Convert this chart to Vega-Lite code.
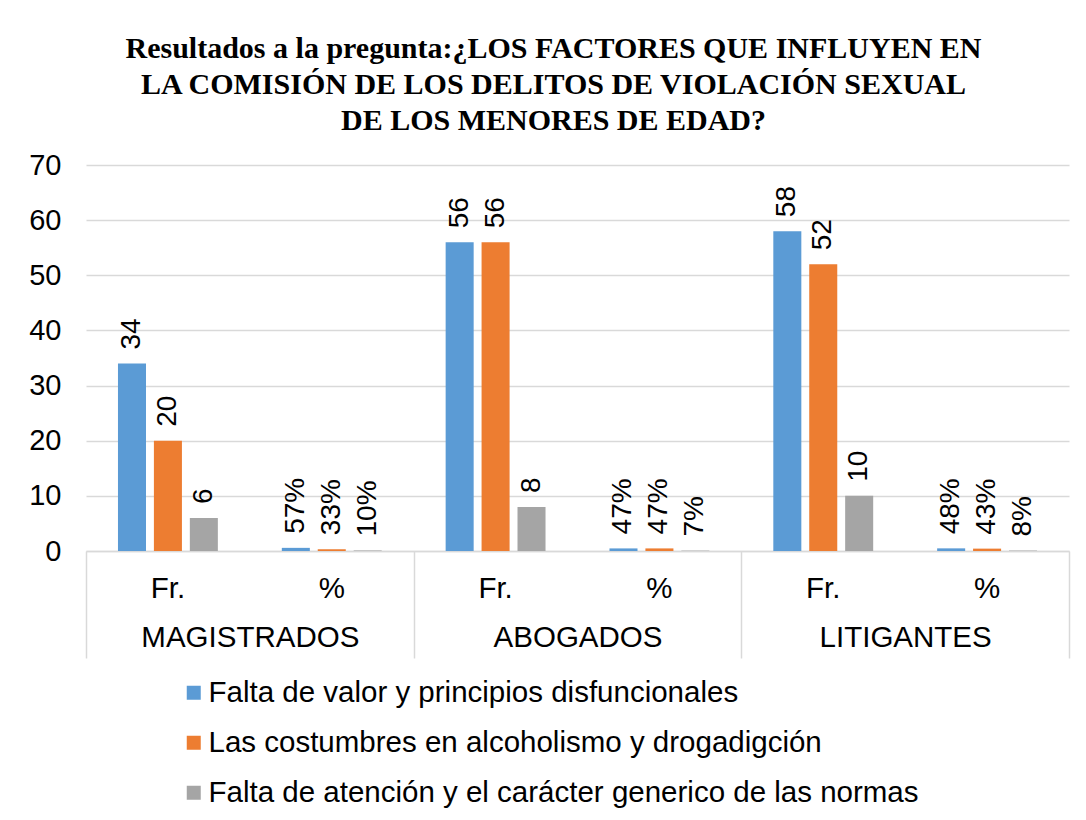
{
  "$schema": "https://vega.github.io/schema/vega-lite/v6.json",
  "width": 983,
  "height": 386,
  "autosize": {"type": "none"},
  "padding": {"left": 86, "top": 165, "right": 17, "bottom": 269},
  "background": "white",
  "title": {
    "text": ["Resultados a la pregunta:¿LOS FACTORES QUE INFLUYEN EN", "LA COMISIÓN DE LOS DELITOS DE VIOLACIÓN SEXUAL", "DE LOS MENORES DE EDAD?"],
    "font": "Liberation Serif",
    "fontSize": 30,
    "fontWeight": "bold",
    "lineHeight": 36,
    "color": "#000000",
    "anchor": "middle",
    "offset": 15,
    "dx": -24
  },
  "data": {
    "values": [
      {"group": "MAGISTRADOS", "slot": "MAGISTRADOS|Fr.", "series": "Falta de valor y principios disfuncionales", "value": 34, "label": "34"},
      {"group": "MAGISTRADOS", "slot": "MAGISTRADOS|Fr.", "series": "Las costumbres en alcoholismo y drogadigción", "value": 20, "label": "20"},
      {"group": "MAGISTRADOS", "slot": "MAGISTRADOS|Fr.", "series": "Falta de atención y el carácter generico de las normas", "value": 6, "label": "6"},
      {"group": "MAGISTRADOS", "slot": "MAGISTRADOS|%", "series": "Falta de valor y principios disfuncionales", "value": 0.57, "label": "57%"},
      {"group": "MAGISTRADOS", "slot": "MAGISTRADOS|%", "series": "Las costumbres en alcoholismo y drogadigción", "value": 0.33, "label": "33%"},
      {"group": "MAGISTRADOS", "slot": "MAGISTRADOS|%", "series": "Falta de atención y el carácter generico de las normas", "value": 0.10, "label": "10%"},
      {"group": "ABOGADOS", "slot": "ABOGADOS|Fr.", "series": "Falta de valor y principios disfuncionales", "value": 56, "label": "56"},
      {"group": "ABOGADOS", "slot": "ABOGADOS|Fr.", "series": "Las costumbres en alcoholismo y drogadigción", "value": 56, "label": "56"},
      {"group": "ABOGADOS", "slot": "ABOGADOS|Fr.", "series": "Falta de atención y el carácter generico de las normas", "value": 8, "label": "8"},
      {"group": "ABOGADOS", "slot": "ABOGADOS|%", "series": "Falta de valor y principios disfuncionales", "value": 0.47, "label": "47%"},
      {"group": "ABOGADOS", "slot": "ABOGADOS|%", "series": "Las costumbres en alcoholismo y drogadigción", "value": 0.47, "label": "47%"},
      {"group": "ABOGADOS", "slot": "ABOGADOS|%", "series": "Falta de atención y el carácter generico de las normas", "value": 0.07, "label": "7%"},
      {"group": "LITIGANTES", "slot": "LITIGANTES|Fr.", "series": "Falta de valor y principios disfuncionales", "value": 58, "label": "58"},
      {"group": "LITIGANTES", "slot": "LITIGANTES|Fr.", "series": "Las costumbres en alcoholismo y drogadigción", "value": 52, "label": "52"},
      {"group": "LITIGANTES", "slot": "LITIGANTES|Fr.", "series": "Falta de atención y el carácter generico de las normas", "value": 10, "label": "10"},
      {"group": "LITIGANTES", "slot": "LITIGANTES|%", "series": "Falta de valor y principios disfuncionales", "value": 0.48, "label": "48%"},
      {"group": "LITIGANTES", "slot": "LITIGANTES|%", "series": "Las costumbres en alcoholismo y drogadigción", "value": 0.43, "label": "43%"},
      {"group": "LITIGANTES", "slot": "LITIGANTES|%", "series": "Falta de atención y el carácter generico de las normas", "value": 0.08, "label": "8%"}
    ]
  },
  "layer": [
    {
      "encoding": {
        "x": {
          "field": "slot", "type": "nominal", "sort": null,
          "scale": {"paddingInner": 0, "paddingOuter": 0},
          "axis": {"orient": "bottom", "title": null, "labelExpr": "split(datum.label, '|')[1]", "labelAngle": 0, "ticks": false, "domainColor": "#d9d9d9", "domainWidth": 1.5, "labelFontSize": 29.5, "labelColor": "#000000", "labelPadding": 23, "labelLimit": 400, "grid": false}
        },
        "xOffset": {"field": "series", "type": "nominal", "sort": null, "scale": {"paddingInner": 0.22, "paddingOuter": 0.89}},
        "y": {
          "field": "value", "type": "quantitative",
          "scale": {"domain": [0, 70]},
          "axis": {"title": null, "values": [0, 10, 20, 30, 40, 50, 60, 70], "domain": false, "ticks": false, "labelFontSize": 29, "labelPadding": 25, "labelColor": "#000000", "gridColor": "#d9d9d9", "gridWidth": 1.5}
        }
      },
      "layer": [
        {
          "mark": {"type": "bar"},
          "encoding": {
            "color": {
              "field": "series", "type": "nominal", "sort": null,
              "scale": {"domain": ["Falta de valor y principios disfuncionales", "Las costumbres en alcoholismo y drogadigción", "Falta de atención y el carácter generico de las normas"], "range": ["#5B9BD5", "#ED7D31", "#A5A5A5"]},
              "legend": {"orient": "none", "legendX": 93, "legendY": 513, "direction": "vertical", "title": null, "symbolType": "square", "symbolSize": 196, "symbolStrokeWidth": 0, "labelFontSize": 29.5, "labelColor": "#000000", "labelOffset": 0, "rowPadding": 19, "labelLimit": 1000}
            }
          }
        },
        {
          "mark": {"type": "text", "angle": 270, "align": "left", "baseline": "middle", "dx": 14, "fontSize": 28, "color": "#000000"},
          "encoding": {
            "text": {"field": "label"}
          }
        }
      ]
    },
    {
      "mark": {"type": "bar", "opacity": 0},
      "encoding": {
        "x": {
          "field": "group", "type": "nominal", "sort": null,
          "scale": {"paddingInner": 0, "paddingOuter": 0},
          "axis": {"orient": "bottom", "title": null, "domain": false, "ticks": true, "tickBand": "extent", "tickSize": 107, "tickColor": "#d9d9d9", "tickWidth": 1.5, "labelFontSize": 29.5, "labelColor": "#000000", "labelPadding": -35, "labelLimit": 400, "labelAngle": 0, "grid": false}
        }
      }
    }
  ],
  "resolve": {"scale": {"x": "independent"}, "axis": {"x": "independent"}},
  "config": {"view": {"stroke": null}, "font": "Liberation Sans"}
}
